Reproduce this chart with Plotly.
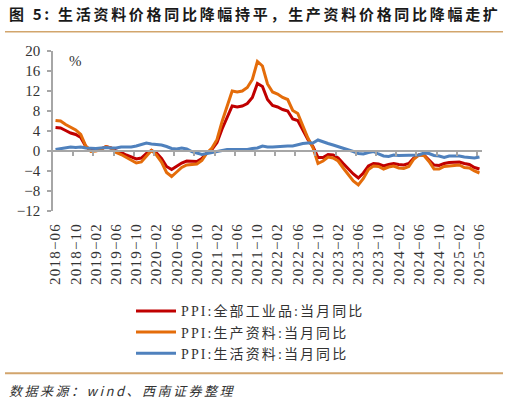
import plotly.graph_objects as go

# ---------------- data ----------------
months = []
y, m = 2018, 6
while (y, m) <= (2025, 6):
    months.append(f"{y}-{m:02d}")
    m += 1
    if m > 12:
        m = 1
        y += 1

ppi_all = [4.7, 4.6, 4.1, 3.6, 3.3, 2.7, 0.9,
           0.1, 0.1, 0.4, 0.9, 0.6, 0.0, -0.3, -0.8, -1.2, -1.6, -1.4, -0.5,
           0.1, -0.4, -1.5, -3.1, -3.7, -3.0, -2.4, -2.0, -2.1, -2.1, -1.5, -0.4,
           0.3, 1.7, 4.4, 6.8, 9.0, 8.8, 9.0, 9.5, 10.7, 13.5, 12.9, 10.3,
           9.1, 8.8, 8.3, 8.0, 6.4, 6.1, 4.2, 2.3, 0.9, -1.3, -1.3, -0.7,
           -0.8, -1.4, -2.5, -3.6, -4.6, -5.4, -4.4, -3.0, -2.5, -2.6, -3.0, -2.7,
           -2.5, -2.7, -2.8, -2.5, -1.4, -0.8, -0.8, -1.8, -2.8, -2.9, -2.5, -2.3,
           -2.3, -2.2, -2.5, -2.7, -3.3, -3.6]

ppi_producer = [6.1, 6.0, 5.3, 4.7, 4.2, 3.3, 1.0,
                -0.1, 0.0, 0.3, 0.9, 0.6, -0.3, -0.7, -1.3, -1.9, -2.4, -2.2, -1.0,
                0.1, -0.8, -2.2, -4.3, -5.1, -4.2, -3.3, -2.8, -2.7, -2.6, -1.9, -0.4,
                0.6, 2.3, 5.9, 9.1, 12.0, 11.8, 12.0, 12.7, 14.3, 17.9, 17.0, 13.4,
                11.8, 11.4, 10.7, 10.3, 8.1, 7.5, 5.0, 2.6, 0.7, -2.5, -2.0, -1.2,
                -1.4, -2.0, -3.4, -4.7, -6.0, -6.8, -5.5, -3.7, -3.0, -3.1, -3.6, -3.2,
                -3.0, -3.4, -3.5, -3.1, -1.6, -0.8, -0.9, -2.1, -3.6, -3.6, -3.1, -3.0,
                -2.9, -2.8, -3.3, -3.4, -4.0, -4.4]

ppi_consumer = [0.3, 0.5, 0.6, 0.8, 0.7, 0.8, 0.6,
                0.5, 0.5, 0.6, 0.7, 0.6, 0.6, 0.8, 0.8, 0.8, 1.0, 1.3, 1.6,
                1.4, 1.3, 1.2, 0.9, 0.5, 0.4, 0.6, 0.4, -0.1, -0.4, -0.7, -0.5,
                -0.3, -0.2, 0.0, 0.3, 0.3, 0.3, 0.3, 0.3, 0.5, 0.6, 1.0, 0.8,
                0.8, 0.9, 0.9, 1.0, 1.0, 1.3, 1.5, 1.6, 1.6, 2.2, 1.8, 1.5,
                1.2, 0.9, 0.6, 0.3, -0.1, -0.5, -0.6, -0.3, -0.1, -0.6, -1.0, -1.1,
                -0.8, -0.9, -0.9, -0.9, -0.8, -0.8, -0.4, -0.5, -0.9, -1.0, -1.3, -1.0,
                -1.0, -1.0, -1.2, -1.3, -1.4, -1.2]

series_names = ["PPI:全部工业品:当月同比", "PPI:生产资料:当月同比", "PPI:生活资料:当月同比"]
series_colors = ["#C00000", "#E46C0A", "#4F81BD"]
tick_every = 4
title_text = "图 5: 生活资料价格同比降幅持平，生产资料价格同比降幅走扩"
source_text = "数据来源：wind、西南证券整理"

# ---------------- layout geometry ----------------
W, H = 508, 404
L, R, T, B = 53, 482, 50.7, 210.7


def px(x):
    return (x - L) / (R - L)


def py(y):
    return (B - y) / (B - T)


xs = list(range(len(months)))

fig = go.Figure()
for vals, name, col in zip([ppi_all, ppi_producer, ppi_consumer], series_names, series_colors):
    fig.add_trace(go.Scatter(
        x=xs, y=vals, mode="lines", name=f'<span style="letter-spacing:2.1px">{name}</span>',
        line=dict(color=col, width=3), hoverinfo="skip"))

# invisible trace on the zero-crossing axis to carry its ticks
fig.add_trace(go.Scatter(x=[xs[0], xs[-1]], y=[0, 0], xaxis="x2", mode="lines",
                         line=dict(width=0), showlegend=False, hoverinfo="skip"))

tickvals = xs[::tick_every]
ticktext = [f'<span style="letter-spacing:1.2px">{months[i].replace("-", "−")}</span>' for i in tickvals]

axis_gray = "#A6A6A6"
serif = "Liberation Serif, DejaVu Serif, serif"
mixed = "Liberation Serif, Noto Sans CJK SC, serif"
cjk = "Noto Sans CJK SC"

fig.update_layout(
    width=W, height=H,
    margin=dict(l=L, r=W - R, t=T, b=H - B, autoexpand=False),
    paper_bgcolor="white", plot_bgcolor="white",
    showlegend=True,
    legend=dict(
        x=px(131), y=py(295), xanchor="left", yanchor="top",
        font=dict(family=mixed, size=14, color="#333333"),
        bgcolor="rgba(0,0,0,0)", tracegroupgap=0, itemwidth=40,
    ),
    xaxis=dict(
        range=[-0.5, len(xs) - 0.5],
        tickmode="array", tickvals=tickvals, ticktext=ticktext,
        tickangle=-90, ticks="", showline=False, showgrid=False, zeroline=False,
        tickfont=dict(family=serif, size=15, color="#333333"),
        ticklabelstandoff=8, automargin=False,
    ),
    xaxis2=dict(
        overlaying="x", anchor="free", position=12 / 32,
        range=[-0.5, len(xs) - 0.5],
        tickmode="array", tickvals=[v - 0.5 for v in tickvals[1:]] + [len(xs) - 1.5],
        ticks="outside", ticklen=4, tickcolor=axis_gray, tickwidth=1.5,
        showticklabels=False, showline=True, linecolor=axis_gray, linewidth=1.5,
        showgrid=False, zeroline=False,
    ),
    yaxis=dict(
        range=[-12, 20], dtick=4, tick0=0,
        ticks="outside", ticklen=4, tickcolor=axis_gray, tickwidth=1.5,
        showline=True, linecolor=axis_gray, linewidth=1.5,
        showgrid=False, zeroline=False, automargin=False,
        tickfont=dict(family=serif, size=15, color="#333333"),
        ticklabelstandoff=4,
    ),
)

annotations = [
    dict(text=f'<b><span style="letter-spacing:2.7px">{title_text}</span></b>',
         x=px(7), y=py(13), xanchor="left", yanchor="middle",
         font=dict(family=cjk, size=15, color="#1a1a1a")),
    dict(text="%", x=px(67), y=py(61), xanchor="left", yanchor="middle",
         font=dict(family=serif, size=15, color="#333333")),
    dict(text=f'<i><span style="letter-spacing:2.5px">{source_text}</span></i>',
         x=px(7), y=py(390), xanchor="left", yanchor="middle",
         font=dict(family=cjk, size=13, color="#333333")),
]
for a in annotations:
    a.update(xref="paper", yref="paper", showarrow=False)
fig.update_layout(annotations=annotations)

line_col = "#D2A56C"
fig.add_shape(type="line", xref="paper", yref="paper", x0=px(5), x1=px(503), y0=py(31.5), y1=py(31.5),
              line=dict(color=line_col, width=1.5))
fig.add_shape(type="line", xref="paper", yref="paper", x0=px(5), x1=px(503), y0=py(373), y1=py(373),
              line=dict(color=line_col, width=2))

fig.write_html("out.html", config={"displayModeBar": False},
               post_script="document.body.style.margin='0';document.body.style.overflow='hidden';")
